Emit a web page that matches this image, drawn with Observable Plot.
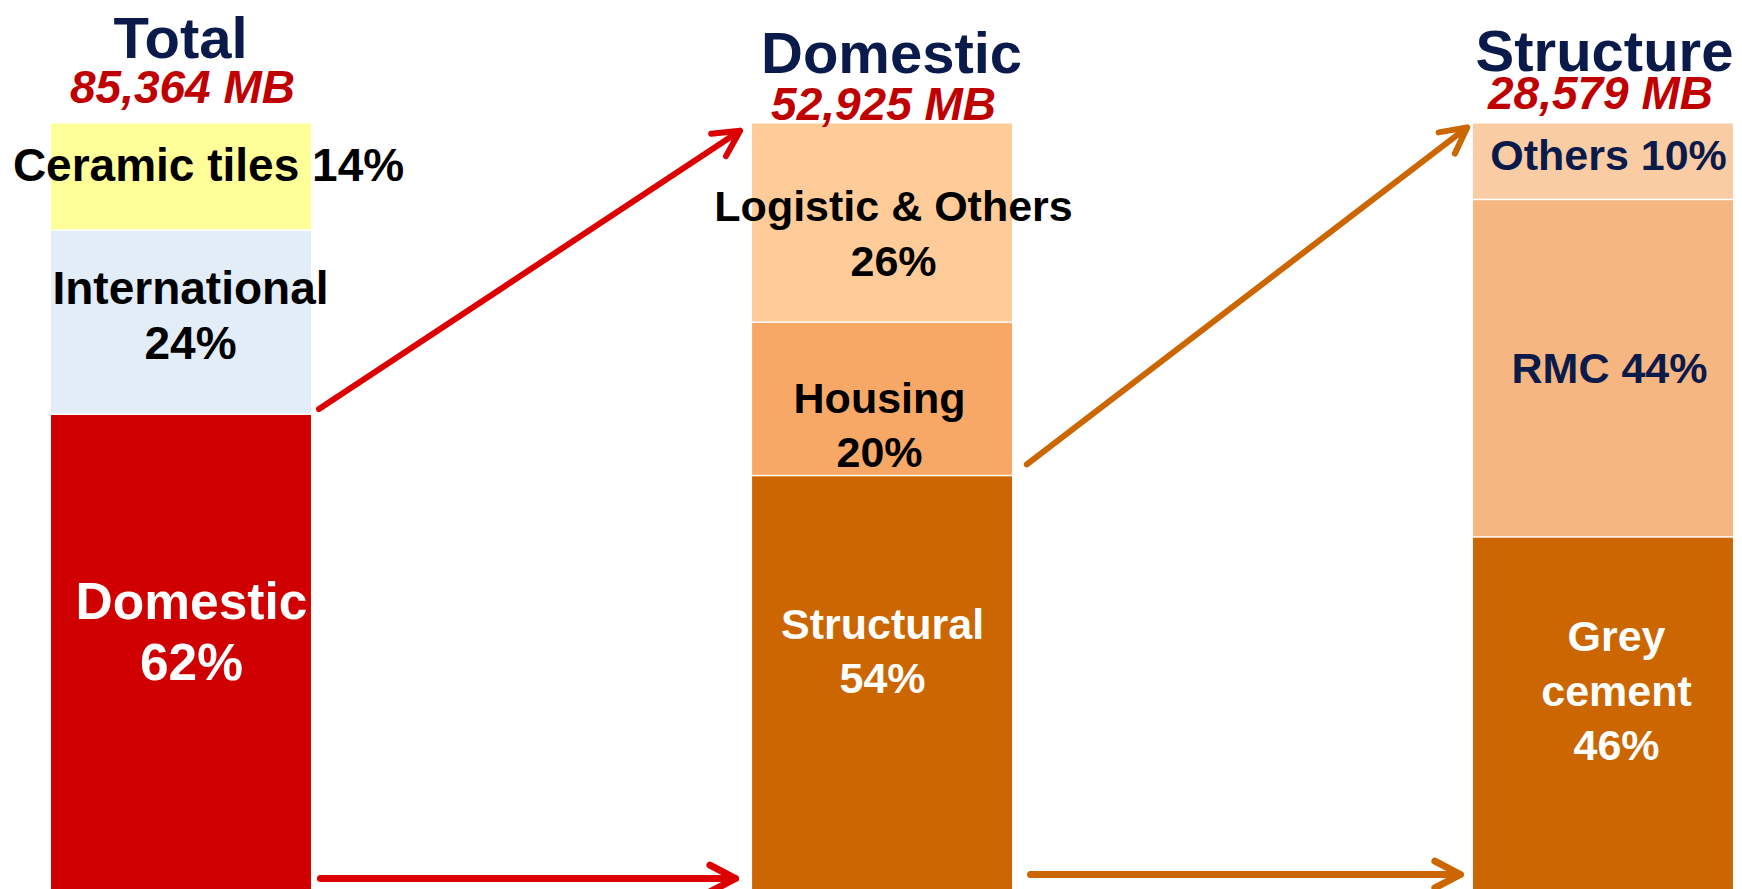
<!DOCTYPE html>
<html>
<head>
<meta charset="utf-8">
<script src="https://cdn.jsdelivr.net/npm/d3@7"></script>
<script src="https://cdn.jsdelivr.net/npm/@observablehq/plot@0.6"></script>
<style>
  html, body { margin: 0; padding: 0; background: #ffffff; overflow: hidden; }
  #chart svg { display: block; }
</style>
</head>
<body>
<div id="chart"></div>
<script>
// ---------------- DATA ----------------
const bars = ["Total", "Domestic", "Structure"];
const barTotals = ["85,364 MB", "52,925 MB", "28,579 MB"];

// segments, listed bottom to top within each bar
const segBar = ["Total", "Total", "Total", "Domestic", "Domestic", "Domestic", "Structure", "Structure", "Structure"];
const segNames = ["Domestic", "International", "Ceramic tiles", "Structural", "Housing", "Logistic & Others", "Grey cement", "RMC", "Others"];
const segShares = [62, 24, 14, 54, 20, 26, 46, 44, 10];
const segLabels = ["Domestic\n62%", "International\n24%", "Ceramic tiles 14%", "Structural\n54%", "Housing\n20%", "Logistic & Others\n26%", "Grey\ncement\n46%", "RMC 44%", "Others 10%"];

// flows: the segment of one bar that is broken down in the next bar
const flowFrom = ["Total", "Domestic"];
const flowSegment = ["Domestic", "Structural"];
const flowTo = ["Domestic", "Structure"];

// ---------------- STYLE / LAYOUT ----------------
const FONT = "'Liberation Sans', Arial, Helvetica, sans-serif";
const NAVY = "#0A1A4A";
const segColors = ["#D10000", "#E2EDF8", "#FFFF99", "#CC6600", "#F8A866", "#FFCB98", "#CC6600", "#F6B681", "#FACCA3"];
const flowColors = ["#DD0000", "#CC6600"];
const barSlot = [0, 0.986, 2];          // horizontal slot of each bar
const HALF = 0.1828;                    // half bar width, in slot units
const labelStyle = {
  "Domestic":          {fill: "white", size: 51.5, lh: 1.2,  dx: 10, dy: -22},
  "International":     {fill: "black", size: 46,   lh: 1.2,  dx: 9,  dy: -8},
  "Ceramic tiles":     {fill: "black", size: 46,   lh: 1.2,  dx: 27, dy: -13},
  "Structural":        {fill: "white", size: 43,   lh: 1.26, dx: 0,  dy: -34},
  "Housing":           {fill: "black", size: 43,   lh: 1.26, dx: -3, dy: 24},
  "Logistic & Others": {fill: "black", size: 43,   lh: 1.26, dx: 11, dy: 9},
  "Grey cement":       {fill: "white", size: 43,   lh: 1.27, dx: 13, dy: -25},
  "RMC":               {fill: NAVY,    size: 43,   lh: 1.2,  dx: 6,  dy: -1},
  "Others":            {fill: NAVY,    size: 43,   lh: 1.2,  dx: 5,  dy: -7}
};
const titleNudge = [{dx: -1, dy: -65}, {dx: 9, dy: -50}, {dx: 1, dy: -52}];
const totalNudge = [{dx: 1, dy: -20}, {dx: 1, dy: -3}, {dx: -3, dy: -14}];
const arrowInsetStart = [9, 18];
const arrowInsetEnd = [15, 8];
const lowerArrowInsetEnd = [17, 13];
const lowerArrowDy = [-11, -15];

// ---------------- BUILD TABLE ----------------
const slot = new Map(bars.map((b, i) => [b, barSlot[i]]));
const segs = segNames.map((name, i) => ({bar: segBar[i], name, share: segShares[i], label: segLabels[i]}));
const cum = new Map();
for (const d of segs) {
  const base = cum.get(d.bar) ?? 0;
  d.y1 = base;
  d.y2 = base + d.share;
  cum.set(d.bar, d.y2);
}
const segTop = (bar, name) => segs.find(d => d.bar === bar && d.name === name).y2;

// ---------------- MARKS ----------------
const marks = [];

marks.push(Plot.rect(segs, {
  x1: d => slot.get(d.bar) - HALF,
  x2: d => slot.get(d.bar) + HALF,
  y1: "y1",
  y2: "y2",
  fill: "name",
  insetTop: 1.5
}));

for (const d of segs) {
  const s = labelStyle[d.name];
  marks.push(Plot.text([d], {
    x: d => slot.get(d.bar),
    y: d => (d.y1 + d.y2) / 2,
    text: "label",
    fill: s.fill,
    fontSize: s.size,
    lineHeight: s.lh,
    fontWeight: "bold",
    fontFamily: FONT,
    dx: s.dx,
    dy: s.dy
  }));
}

bars.forEach((b, i) => {
  marks.push(Plot.text([b], {
    x: () => slot.get(b), y: () => 100, text: d => d,
    lineAnchor: "bottom", fill: NAVY, fontSize: 58, fontWeight: "bold", fontFamily: FONT,
    dx: titleNudge[i].dx, dy: titleNudge[i].dy
  }));
  marks.push(Plot.text([barTotals[i]], {
    x: () => slot.get(b), y: () => 100, text: d => d,
    lineAnchor: "bottom", fill: "#C00000", fontSize: 46, fontWeight: "bold", fontStyle: "italic", fontFamily: FONT,
    dx: totalNudge[i].dx, dy: totalNudge[i].dy
  }));
});

flowFrom.forEach((from, i) => {
  const to = flowTo[i];
  // upper arrow: from the top of the broken-down segment to the top of the next bar
  marks.push(Plot.arrow([i], {
    x1: () => slot.get(from) + HALF,
    y1: () => segTop(from, flowSegment[i]),
    x2: () => slot.get(to) - HALF,
    y2: () => 100,
    stroke: flowColors[i],
    strokeWidth: 6,
    headLength: 7.25,
    headAngle: 55,
    insetStart: arrowInsetStart[i],
    insetEnd: arrowInsetEnd[i]
  }));
  // lower arrow along the base
  marks.push(Plot.arrow([i], {
    x1: () => slot.get(from) + HALF,
    y1: () => 0,
    x2: () => slot.get(to) - HALF,
    y2: () => 0,
    stroke: flowColors[i],
    strokeWidth: 7,
    headLength: 6.2,
    headAngle: 55,
    insetStart: arrowInsetStart[i],
    insetEnd: lowerArrowInsetEnd[i],
    dy: lowerArrowDy[i]
  }));
});

const chart = Plot.plot({
  width: 1742,
  height: 889,
  marginTop: 122,
  marginBottom: 0,
  marginLeft: 0,
  marginRight: 0,
  style: {background: "white", overflow: "visible"},
  x: {domain: [-181 / 711, 1561 / 711], axis: null},
  y: {domain: [0, 100], axis: null},
  color: {domain: segNames, range: segColors},
  marks
});
document.getElementById("chart").appendChild(chart);
</script>
</body>
</html>
